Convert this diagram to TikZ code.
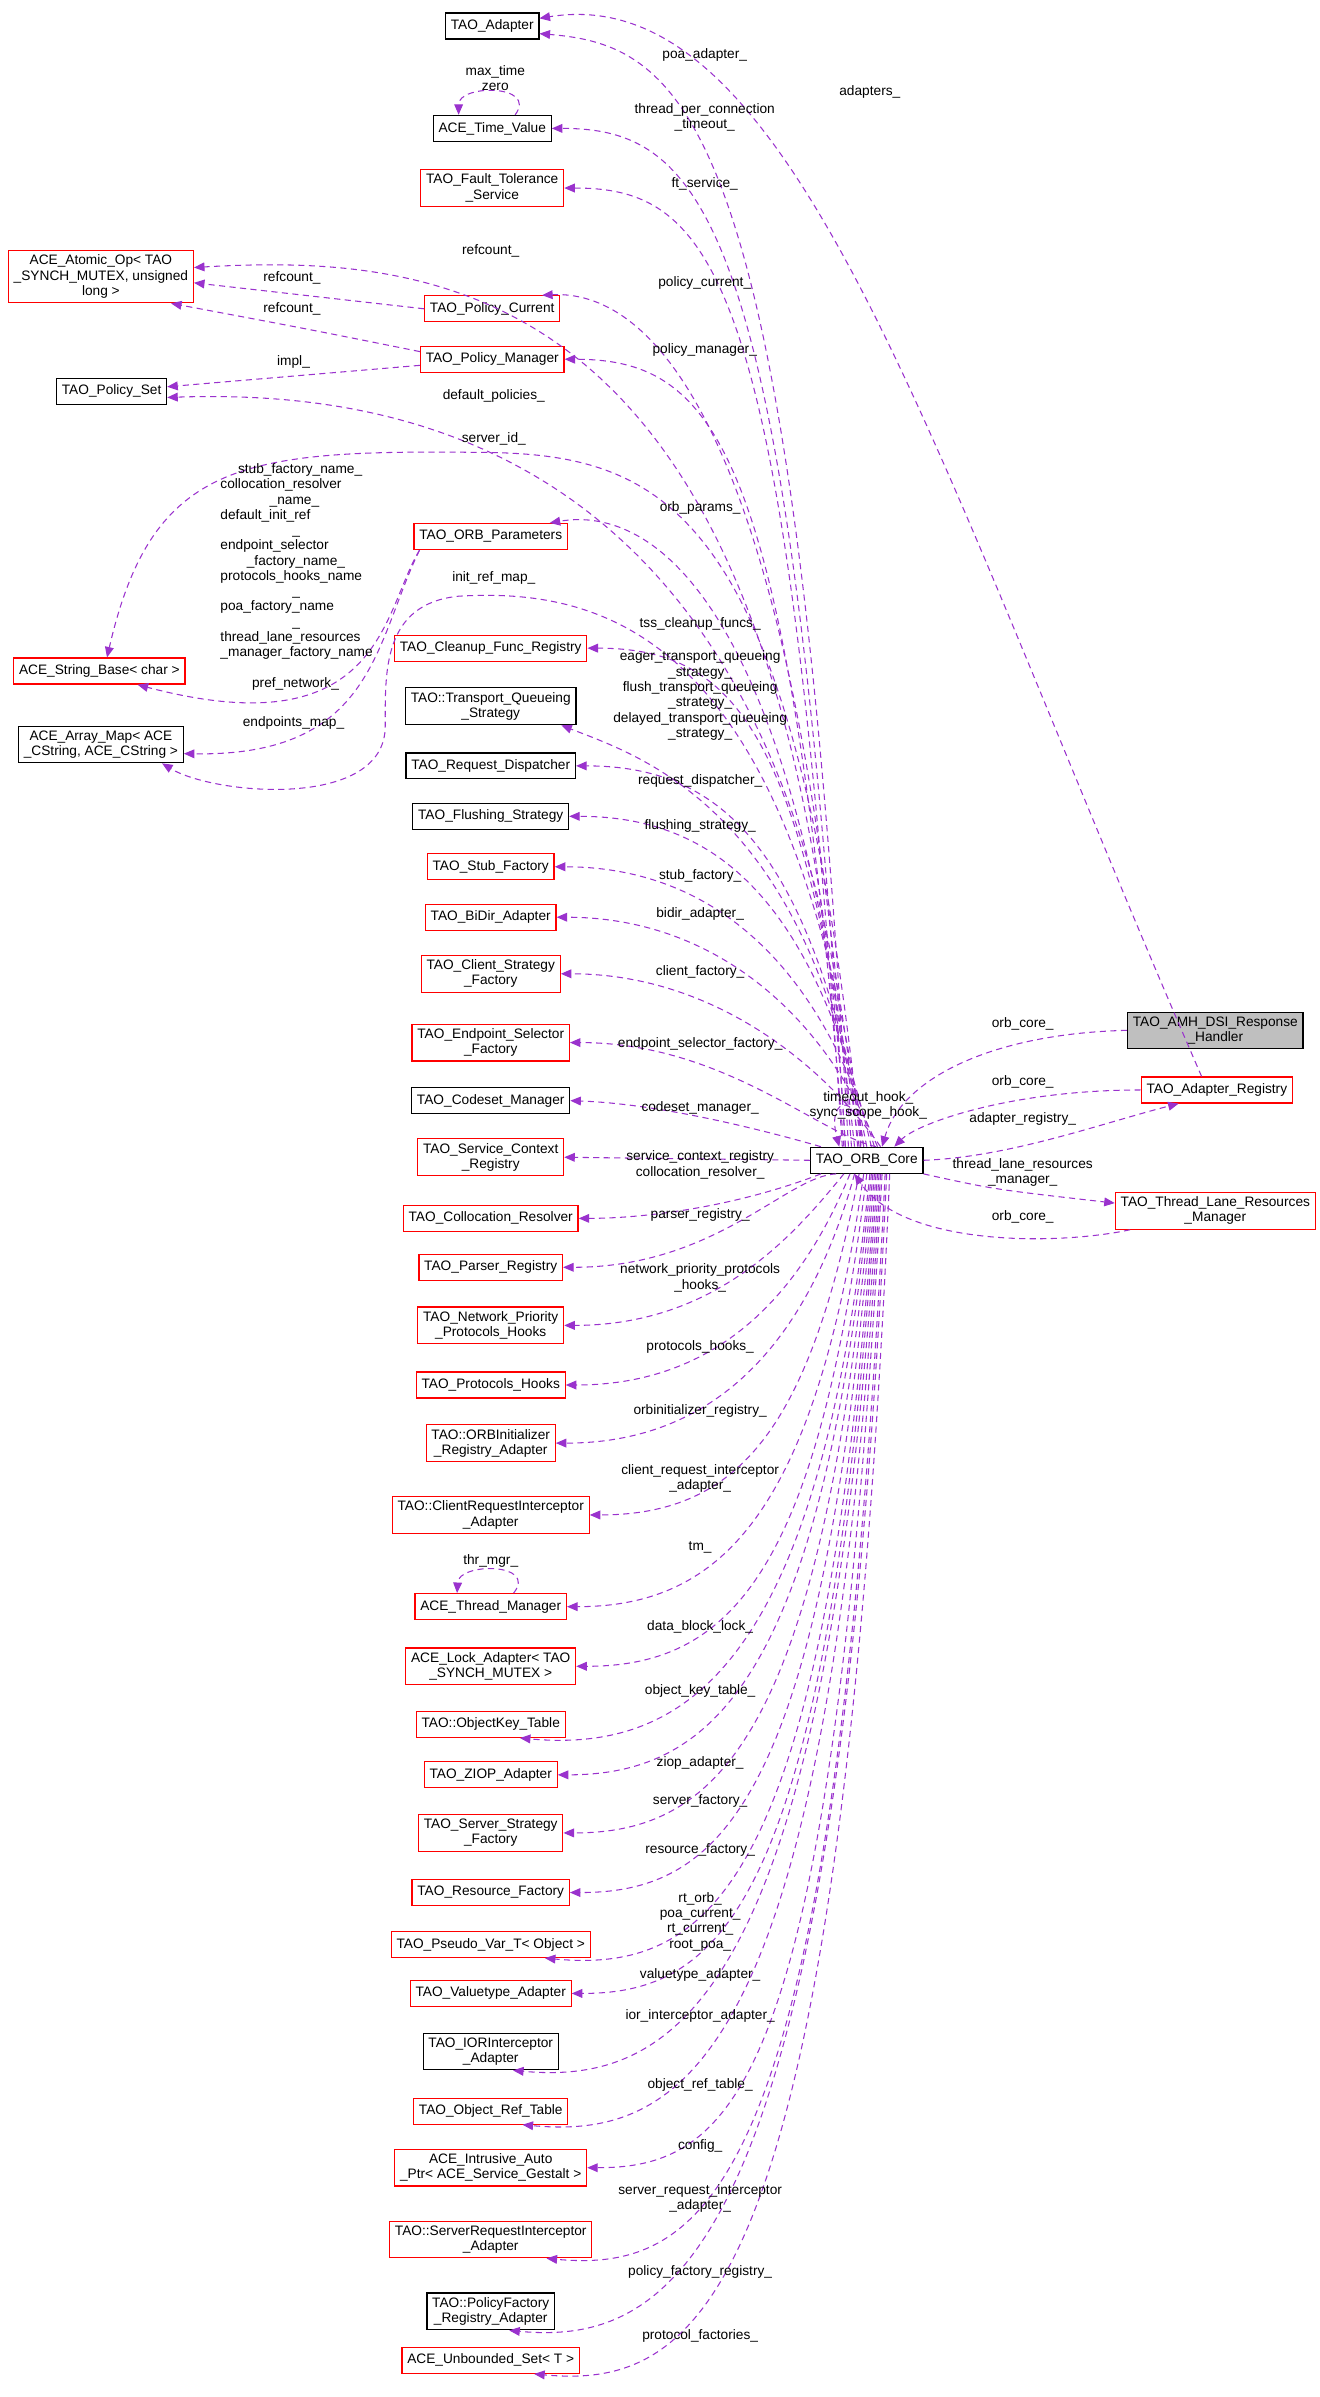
\documentclass[tikz,border=0pt]{standalone}
\usepackage{fontspec}
\setmainfont{Liberation Sans}
\usetikzlibrary{
  arrows.meta,
  positioning,
  calc,
}
\definecolor{usespurple}{HTML}{9A32CD}
\tikzset{
  font=\fontsize{7.8}{8.7}\selectfont,
  x=0.0306cm,
  y=-0.0306cm,
  my class/.style={
    draw,
    line width=0.7pt,
    inner xsep=3pt,
    inner ysep=2.5pt,
    minimum height=0.52cm,
    align=center
  },
  my red class/.style={
    my class,
    draw=red
  },
  my root class/.style={
    my class,
    fill=black!25
  },
  uses/.style={
    draw=usespurple,
    line width=0.6pt,
    dash pattern=on 3.5pt off 2.5pt,
    -{Triangle[length=6pt,width=5pt]}
  },
  var/.style={
    inner sep=0pt,
    align=center
  }
}

\begin{document}
\begin{tikzpicture}
\useasboundingbox (0,0) rectangle (863,1568);

% classes
\node[my class]     (adapter)     at (322,17)   {TAO\_Adapter};
\node[my class]     (timeval)     at (322,84)   {ACE\_Time\_Value};
\node[my red class] (ftserv)      at (322,123)  {TAO\_Fault\_Tolerance\\\_Service};
\node[my red class] (atomic)      at (66,181)   {ACE\_Atomic\_Op< TAO\\\_SYNCH\_MUTEX, unsigned\\long >};
\node[my red class] (polcur)      at (322,202)  {TAO\_Policy\_Current};
\node[my red class] (polmgr)      at (322,235)  {TAO\_Policy\_Manager};
\node[my class]     (polset)      at (73,256)   {TAO\_Policy\_Set};
\node[my red class] (orbparams)   at (321,351)  {TAO\_ORB\_Parameters};
\node[my red class] (cleanup)     at (321,424)  {TAO\_Cleanup\_Func\_Registry};
\node[my red class] (strbase)     at (65,439)   {ACE\_String\_Base< char >};
\node[my class]     (transq)      at (321,462)  {TAO::Transport\_Queueing\\\_Strategy};
\node[my class]     (arraymap)    at (66,487)   {ACE\_Array\_Map< ACE\\\_CString, ACE\_CString >};
\node[my class]     (reqdisp)     at (321,501)  {TAO\_Request\_Dispatcher};
\node[my class]     (flushing)    at (321,534)  {TAO\_Flushing\_Strategy};
\node[my red class] (stub)        at (321,567)  {TAO\_Stub\_Factory};
\node[my red class] (bidir)       at (321,600)  {TAO\_BiDir\_Adapter};
\node[my red class] (clientstrat) at (321,637)  {TAO\_Client\_Strategy\\\_Factory};
\node[my red class] (endpointsel) at (321,682)  {TAO\_Endpoint\_Selector\\\_Factory};
\node[my class]     (codeset)     at (321,720)  {TAO\_Codeset\_Manager};
\node[my red class] (servctx)     at (321,757)  {TAO\_Service\_Context\\\_Registry};
\node[my red class] (colloc)      at (321,797)  {TAO\_Collocation\_Resolver};
\node[my red class] (parser)      at (321,829)  {TAO\_Parser\_Registry};
\node[my red class] (netprio)     at (321,867)  {TAO\_Network\_Priority\\\_Protocols\_Hooks};
\node[my red class] (protohooks)  at (321,906)  {TAO\_Protocols\_Hooks};
\node[my red class] (orbinit)     at (321,944)  {TAO::ORBInitializer\\\_Registry\_Adapter};
\node[my red class] (clientreq)   at (321,991)  {TAO::ClientRequestInterceptor\\\_Adapter};
\node[my red class] (thrmgr)      at (321,1051) {ACE\_Thread\_Manager};
\node[my red class] (lockadapt)   at (321,1090) {ACE\_Lock\_Adapter< TAO\\\_SYNCH\_MUTEX >};
\node[my red class] (objkey)      at (321,1128) {TAO::ObjectKey\_Table};
\node[my red class] (ziop)        at (321,1161) {TAO\_ZIOP\_Adapter};
\node[my red class] (serverstrat) at (321,1199) {TAO\_Server\_Strategy\\\_Factory};
\node[my red class] (resfact)     at (321,1238) {TAO\_Resource\_Factory};
\node[my red class] (pseudo)      at (321,1272) {TAO\_Pseudo\_Var\_T< Object >};
\node[my red class] (valuetype)   at (321,1304) {TAO\_Valuetype\_Adapter};
\node[my class]     (iorint)      at (321,1342) {TAO\_IORInterceptor\\\_Adapter};
\node[my red class] (objref)      at (321,1381) {TAO\_Object\_Ref\_Table};
\node[my red class] (intrusive)   at (321,1418) {ACE\_Intrusive\_Auto\\\_Ptr< ACE\_Service\_Gestalt >};
\node[my red class] (serverreq)   at (321,1465) {TAO::ServerRequestInterceptor\\\_Adapter};
\node[my class]     (polfact)     at (321,1512) {TAO::PolicyFactory\\\_Registry\_Adapter};
\node[my red class] (unbounded)   at (321,1544) {ACE\_Unbounded\_Set< T >};
\node[my class]     (core)        at (567,759)  {TAO\_ORB\_Core};
\node[my root class](amh)         at (795,674)  {TAO\_AMH\_DSI\_Response\\\_Handler};
\node[my red class] (adapreg)     at (796,713)  {TAO\_Adapter\_Registry};
\node[my red class] (threadlane)  at (795,792)  {TAO\_Thread\_Lane\_Resources\\\_Manager};

% members of TAO_ORB_Core, above it
\foreach \n/\y/\c in {timeval/84/516, ftserv/123/514, polmgr/235/515,
                      cleanup/424/525, reqdisp/501/530, flushing/534/533,
                      stub/567/535, bidir/600/537, clientstrat/637/539,
                      endpointsel/682/536}
  \draw[uses] ([shift={(\c-530,0)}]core.north) .. controls (\c,\y+60) and +(100,0) .. (\n.east);
\draw[uses] ([shift={(-12,0)}]core.north) .. controls (518,80) and (450,30) .. ([shift={(0,5)}]adapter.east);
\draw[uses] ([shift={(-10,0)}]core.north) .. controls (520,260) and (420,190) .. ([shift={(-12,0)}]polcur.north east);
\draw[uses] ([shift={(-8,0)}]core.north) .. controls (522,400) and (430,330) .. ([shift={(-12,0)}]orbparams.north east);
\draw[uses] ([shift={(-2,0)}]core.north) .. controls (530,530) and (420,495) .. ([shift={(-10,0)}]transq.south east);
\draw[uses] ([shift={(-30,0)}]core.north) .. controls (495,738) and (430,722) .. (codeset.east);
\draw[uses] (core.west) -- (servctx.east);
\draw[uses] ([shift={(-30,0)}]core.south) .. controls (480,790) and (420,797) .. (colloc.east);

% members of TAO_ORB_Core, below it
\foreach \n/\y/\c in {parser/829/515, netprio/867/520, protohooks/906/524,
                      orbinit/944/527, clientreq/991/530, thrmgr/1051/533,
                      lockadapt/1090/535, ziop/1161/538, serverstrat/1199/539,
                      resfact/1238/540, valuetype/1304/542, intrusive/1418/545}
  \draw[uses] ([shift={(\c-535,0)}]core.south) .. controls (\c,\y-60) and +(100,0) .. (\n.east);
\foreach \n/\y/\c in {objkey/1128/537, pseudo/1272/541, iorint/1342/543,
                      objref/1381/544, serverreq/1465/547, polfact/1512/548,
                      unbounded/1544/550}
  \draw[uses] ([shift={(\c-535,0)}]core.south) .. controls (\c,\y-40) and +(110,10) .. ([shift={(-30,0)}]\n.south east);

% far left
\draw[uses] ([shift={(-14,0)}]core.north) .. controls (522,190) and (300,165) .. ([shift={(0,-6)}]atomic.east);
\draw[uses] (polcur.west) -- ([shift={(0,4)}]atomic.east);
\draw[uses] ([shift={(0,-5)}]polmgr.west) .. controls (200,215) .. ([shift={(-15,0)}]atomic.south east);
\draw[uses] ([shift={(0,4)}]polmgr.west) -- ([shift={(0,-3)}]polset.east);
\draw[uses] ([shift={(-6,0)}]core.north) .. controls (525,290) and (260,255) .. ([shift={(0,4)}]polset.east);
\draw[uses] ([shift={(-4,0)}]core.north) .. controls (522,340) and (440,298) .. (320,296)
  .. controls (160,294) and (100,300) .. ([shift={(5,0)}]strbase.north);
\draw[uses] ([shift={(4,0)}]orbparams.south west) .. controls (250,400) and (250,490) .. ([shift={(25,0)}]strbase.south);
\draw[uses] ([shift={(4,0)}]orbparams.south west) .. controls (245,420) and (245,495) .. ([shift={(0,6)}]arraymap.east);
\draw[uses] ([shift={(-2,0)}]core.north) .. controls (520,420) and (400,384) .. (300,390)
  .. controls (250,395) and (252,440) .. (252,475)
  .. controls (252,530) and (140,520) .. ([shift={(40,0)}]arraymap.south);

% right side
\draw[uses] ([shift={(-10,0)}]adapreg.north) .. controls (610,300) and (520,-15) .. ([shift={(0,-5)}]adapter.east);
\draw[uses] (amh.west) .. controls (650,676) and (590,705) .. ([shift={(10,0)}]core.north);
\draw[uses] (adapreg.west) .. controls (660,713) and (600,735) .. ([shift={(18,0)}]core.north);
\draw[uses] (core.east) .. controls (660,757) and (720,735) .. ([shift={(-25,0)}]adapreg.south);
\draw[uses] (core.south east) .. controls (650,778) .. ([shift={(0,-5)}]threadlane.west);
\draw[uses] ([shift={(10,0)}]threadlane.south west) .. controls (690,815) and (590,815) .. ([shift={(-8,0)}]core.south);

% self references
\draw[uses] ([shift={(15,0)}]timeval.north) .. controls (352,55) and (300,55) .. ([shift={(-22,0)}]timeval.north);
\draw[uses] ([shift={(15,0)}]thrmgr.north) .. controls (352,1022) and (300,1022) .. ([shift={(-22,0)}]thrmgr.north);
\draw[uses] ([shift={(-4,0)}]core.north) .. controls (565,715) and (540,715) .. ([shift={(-18,0)}]core.north);

% variable names
\node[var] (vpoa)      at (461,36)   {poa\_adapter\_};
\node[var] (vadapters) at (569,60)   {adapters\_};
\node[var] (vmaxtime)  at (324,51)   {max\_time\\zero};
\node[var] (vtpc)      at (461,77)   {thread\_per\_connection\\\_timeout\_};
\node[var] (vft)       at (461,120)  {ft\_service\_};
\node[var] (vref1)     at (321,164)  {refcount\_};
\node[var] (vref2)     at (191,182)  {refcount\_};
\node[var] (vpolcur)   at (461,185)  {policy\_current\_};
\node[var] (vref3)     at (191,202)  {refcount\_};
\node[var] (vpolmgr)   at (461,229)  {policy\_manager\_};
\node[var] (vimpl)     at (192,237)  {impl\_};
\node[var] (vdefpol)   at (323,259)  {default\_policies\_};
\node[var] (vserverid) at (323,287)  {server\_id\_};
\node[var, align=left, anchor=north west] (vnames) at (144,303) {\hspace*{10pt}stub\_factory\_name\_\\collocation\_resolver\\\hspace*{28pt}\_name\_\\default\_init\_ref\\\hspace*{41pt}\_\\endpoint\_selector\\\hspace*{15pt}\_factory\_name\_\\protocols\_hooks\_name\\\hspace*{41pt}\_\\poa\_factory\_name\\\hspace*{41pt}\_\\thread\_lane\_resources\\\_manager\_factory\_name\\[8.7pt]\hspace*{18pt}pref\_network\_};
\node[var] (vendpts)   at (192,473)  {endpoints\_map\_};
\node[var] (vorbpar)   at (458,332)  {orb\_params\_};
\node[var] (vinitref)  at (323,378)  {init\_ref\_map\_};
\node[var] (vtss)      at (458,408)  {tss\_cleanup\_funcs\_};
\node[var] (vtransq)   at (458,455)  {eager\_transport\_queueing\\\_strategy\_\\flush\_transport\_queueing\\\_strategy\_\\delayed\_transport\_queueing\\\_strategy\_};
\node[var] (vreqdisp)  at (458,511)  {request\_dispatcher\_};
\node[var] (vflush)    at (458,540)  {flushing\_strategy\_};
\node[var] (vstub)     at (458,573)  {stub\_factory\_};
\node[var] (vbidir)    at (458,598)  {bidir\_adapter\_};
\node[var] (vclient)   at (458,636)  {client\_factory\_};
\node[var] (vendsel)   at (458,683)  {endpoint\_selector\_factory\_};
\node[var] (vcodeset)  at (458,725)  {codeset\_manager\_};
\node[var] (vservctx)  at (458,757)  {service\_context\_registry};
\node[var] (vcolloc)   at (458,767)  {collocation\_resolver\_};
\node[var] (vparser)   at (458,795)  {parser\_registry\_};
\node[var] (vnetprio)  at (458,836)  {network\_priority\_protocols\\\_hooks\_};
\node[var] (vprotoh)   at (458,881)  {protocols\_hooks\_};
\node[var] (vorbinit)  at (458,923)  {orbinitializer\_registry\_};
\node[var] (vclireq)   at (458,967)  {client\_request\_interceptor\\\_adapter\_};
\node[var] (vtm)       at (458,1012) {tm\_};
\node[var] (vthrmgr)   at (321,1021) {thr\_mgr\_};
\node[var] (vdblock)   at (458,1064) {data\_block\_lock\_};
\node[var] (vobjkey)   at (458,1106) {object\_key\_table\_};
\node[var] (vziop)     at (458,1153) {ziop\_adapter\_};
\node[var] (vsrvfact)  at (458,1178) {server\_factory\_};
\node[var] (vresfact)  at (458,1210) {resource\_factory\_};
\node[var] (vrtorb)    at (458,1257) {rt\_orb\_\\poa\_current\_\\rt\_current\_\\root\_poa\_};
\node[var] (vvaltype)  at (458,1292) {valuetype\_adapter\_};
\node[var] (vior)      at (458,1319) {ior\_interceptor\_adapter\_};
\node[var] (vobjref)   at (458,1364) {object\_ref\_table\_};
\node[var] (vconfig)   at (458,1404) {config\_};
\node[var] (vsrvreq)   at (458,1438) {server\_request\_interceptor\\\_adapter\_};
\node[var] (vpolfact)  at (458,1486) {policy\_factory\_registry\_};
\node[var] (vprotofac) at (458,1528) {protocol\_factories\_};
\node[var] (vhooks)    at (568,723)  {timeout\_hook\_\\sync\_scope\_hook\_};
\node[var] (vorbcore1) at (669,670)  {orb\_core\_};
\node[var] (vorbcore2) at (669,708)  {orb\_core\_};
\node[var] (vadapreg)  at (669,732)  {adapter\_registry\_};
\node[var] (vtlrm)     at (669,767)  {thread\_lane\_resources\\\_manager\_};
\node[var] (vorbcore3) at (669,796)  {orb\_core\_};
\end{tikzpicture}
\end{document}
